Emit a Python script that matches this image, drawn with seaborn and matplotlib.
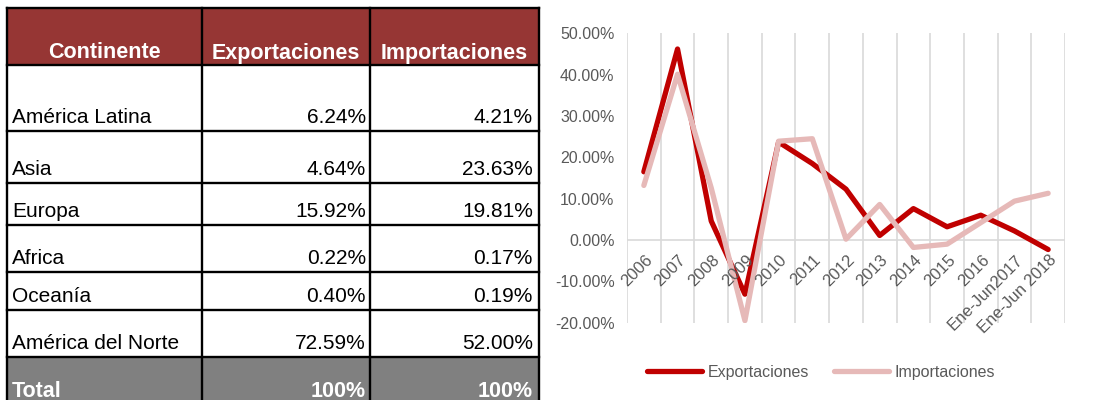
import matplotlib

matplotlib.use("Agg")

import matplotlib.pyplot as plt
import pandas as pd
import seaborn as sns
from matplotlib.patches import Rectangle
from matplotlib.ticker import FuncFormatter

# table data
header = ["Continente", "Exportaciones", "Importaciones"]
continentes = ["América Latina", "Asia", "Europa", "Africa", "Oceanía", "América del Norte"]
export_share = [6.24, 4.64, 15.92, 0.22, 0.40, 72.59]
import_share = [4.21, 23.63, 19.81, 0.17, 0.19, 52.00]
total_row = ["Total", "100%", "100%"]

# line chart data (annual growth, %)
periodos = ["2006", "2007", "2008", "2009", "2010", "2011", "2012", "2013",
            "2014", "2015", "2016", "Ene-Jun2017", "Ene-Jun 2018"]
exportaciones = [16.5, 46.2, 4.6, -13.1, 23.7, 18.5, 12.3, 1.1, 7.6, 3.2, 6.0, 2.2, -2.3]
importaciones = [13.2, 40.1, 12.6, -19.5, 23.9, 24.5, 0.2, 8.6, -1.8, -1.0, 4.2, 9.4, 11.3]
series_names = ["Exportaciones", "Importaciones"]

W, H = 1094, 400
RED_HEAD = "#963634"
GRAY_TOTAL = "#808080"
TXT_GRAY = "#595959"
GRID = "#D9D9D9"

sns.set_theme(style="white")
plt.rcParams["font.family"] = ["Liberation Sans", "DejaVu Sans"]

fig = plt.figure(figsize=(W / 100, H / 100), dpi=100)

# ---- table (pixel layout axes) ----
axt = fig.add_axes([0, 0, 1, 1])
axt.set_xlim(0, W)
axt.set_ylim(H, 0)
axt.axis("off")

col_edges = [7, 202, 370, 539]
row_edges = [8, 65, 131, 183, 225, 272, 310, 357, 410]

left, right = col_edges[0], col_edges[-1]
axt.add_patch(Rectangle((left, row_edges[0]), right - left, row_edges[1] - row_edges[0],
                        facecolor=RED_HEAD, edgecolor="none"))
axt.add_patch(Rectangle((left, row_edges[-2]), right - left, row_edges[-1] - row_edges[-2],
                        facecolor=GRAY_TOTAL, edgecolor="none"))
for y in row_edges[:-1]:
    axt.plot([left, right], [y, y], color="black", lw=1.7, solid_capstyle="projecting")
for x in col_edges:
    axt.plot([x, x], [row_edges[0], H], color="black", lw=1.7, solid_capstyle="projecting")

# header
for j, name in enumerate(header):
    cx = (col_edges[j] + col_edges[j + 1]) / 2
    axt.text(cx, row_edges[1] - 6.5, name, ha="center", va="baseline",
             color="white", fontsize=15.5, fontweight="bold")

# body rows
for i, cont in enumerate(continentes):
    yb = row_edges[i + 2] - 8
    axt.text(col_edges[0] + 5, yb, cont, ha="left", va="baseline", fontsize=15, color="black")
    axt.text(col_edges[2] - 4, yb, f"{export_share[i]:.2f}%", ha="right", va="baseline",
             fontsize=15, color="black")
    axt.text(col_edges[3] - 6, yb, f"{import_share[i]:.2f}%", ha="right", va="baseline",
             fontsize=15, color="black")

# total row
yb = row_edges[-2] + 40
axt.text(col_edges[0] + 5, yb, total_row[0], ha="left", va="baseline",
         fontsize=15.5, fontweight="bold", color="white")
axt.text(col_edges[2] - 4, yb, total_row[1], ha="right", va="baseline",
         fontsize=15.5, fontweight="bold", color="white")
axt.text(col_edges[3] - 6, yb, total_row[2], ha="right", va="baseline",
         fontsize=15.5, fontweight="bold", color="white")

# ---- line chart ----
df = pd.DataFrame({
    "periodo": periodos * 2,
    "valor": exportaciones + importaciones,
    "serie": [series_names[0]] * len(periodos) + [series_names[1]] * len(periodos),
})

ax = fig.add_axes([627 / W, (H - 322.7) / H, 438 / W, 289.4 / H])
sns.lineplot(data=df, x="periodo", y="valor", hue="serie", hue_order=series_names,
             palette={"Exportaciones": "#C00000", "Importaciones": "#E6B9B8"},
             linewidth=3.8, estimator=None, sort=False, legend=False, ax=ax,
             solid_joinstyle="round", solid_capstyle="round")
handles = ax.get_lines()[:2]

n = len(periodos)
ax.set_xlim(-0.5, n - 0.5)
ax.set_ylim(-20, 50)
ax.set_yticks(range(-20, 51, 10))
ax.yaxis.set_major_formatter(FuncFormatter(lambda v, _: f"{v:.2f}%"))
ax.set_xticks(range(n))
ax.set_xticklabels([""] * n)
ax.set_xticks([k - 0.5 for k in range(n + 1)], minor=True)
ax.grid(False)
ax.grid(True, which="minor", axis="x", color=GRID, lw=1.2)
ax.set_axisbelow(True)
ax.axhline(0, color=GRID, lw=1.2, zorder=1)
ax.tick_params(axis="y", length=0, pad=9, labelsize=11.5, labelcolor=TXT_GRAY)
ax.tick_params(axis="x", which="both", length=0)
for s in ax.spines.values():
    s.set_visible(False)
ax.set_xlabel("")
ax.set_ylabel("")
ax.patch.set_alpha(0)

for k, lab in enumerate(periodos):
    ax.annotate(lab, xy=(k, 0), xytext=(0.5, -9), textcoords="offset points",
                rotation=45, rotation_mode="anchor", ha="right", va="top",
                fontsize=12, color=TXT_GRAY)

fig.legend(handles, series_names, loc="center", bbox_to_anchor=(821 / W, 1 - 372 / H),
           ncol=2, frameon=False, fontsize=11.5, handlelength=3.4, handletextpad=0.35,
           columnspacing=1.6, labelcolor=TXT_GRAY)

fig.savefig("out.png", dpi=100)
plt.close(fig)
